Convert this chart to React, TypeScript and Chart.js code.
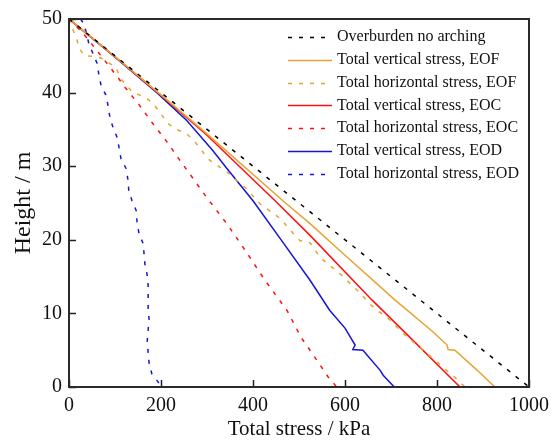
import React, { useEffect, useRef } from "react";
import { Chart, registerables } from "chart.js";

Chart.register(...registerables);

const seriesLabels = [
  "Overburden no arching",
  "Total vertical stress, EOF",
  "Total horizontal stress, EOF",
  "Total vertical stress, EOC",
  "Total horizontal stress, EOC",
  "Total vertical stress, EOD",
  "Total horizontal stress, EOD",
];

const overburdenStress = [0, 1000];
const overburdenHeight = [50, 0];

const eofVStress = [0, 111, 200, 300, 465, 524, 600, 709, 791, 822, 824, 839, 887, 926];
const eofVHeight = [50, 44.3, 39.7, 34.4, 25.3, 22.2, 17.9, 11.8, 7.5, 5.7, 5.1, 5.0, 2.3, 0];

const eofHStress = [0, 10, 15, 22, 33, 58, 74, 102, 111, 139, 165, 183, 198, 213, 230, 256, 274, 289, 302, 322, 346, 385, 415, 459, 487, 502, 524, 546, 589, 604, 637, 650, 670, 691, 709, 726, 783, 802, 822, 841, 861];
const eofHHeight = [50, 48.3, 47.7, 46.1, 45, 44.9, 44.6, 43.4, 42, 40, 39.4, 38.5, 37.3, 35.9, 35.1, 34.4, 33.3, 32.1, 31, 30.1, 29.1, 27, 24.9, 22.9, 20.9, 19.9, 19.6, 17.6, 15.4, 14.5, 12.5, 11.5, 10.4, 9.5, 8.4, 7.3, 4.3, 3.3, 2.2, 1.2, 0];

const eocVStress = [0, 111, 200, 300, 448, 524, 659, 750, 850];
const eocVHeight = [50, 44.3, 39.6, 34.2, 25.3, 20.6, 11.8, 6.2, 0];

const eocHStress = [0, 30, 61, 107, 122, 153, 182, 213, 240, 300, 343, 387, 426, 474, 506, 524, 563, 582];
const eocHHeight = [50, 48.1, 45.7, 42, 40.7, 38.3, 35.8, 33.3, 30.9, 25.7, 22.2, 18.2, 14.5, 10.4, 6.6, 5.0, 1.4, 0];

const eodVStress = [0, 100, 191, 256, 313, 342, 400, 460, 524, 567, 600, 622, 617, 639, 676, 683, 707];
const eodVHeight = [50, 44.8, 40, 36.2, 32.1, 29.8, 25.3, 20.1, 14.5, 10.4, 8, 5.7, 5.1, 5, 2.3, 1.6, 0];

const eodHStress = [25, 33, 43, 54, 61, 65, 70, 80, 85, 89, 96, 104, 109, 113, 124, 128, 130, 137, 146, 148, 152, 161, 163, 165, 170, 172, 172, 172, 174, 172, 170, 172, 174, 180, 196];
const eodHHeight = [50, 49.3, 46.7, 45, 44, 42.4, 40.9, 39.7, 38.2, 36.6, 35.2, 34, 32.5, 31, 29.7, 28.2, 26.7, 25.3, 24, 22.4, 20.9, 19.5, 18.2, 16.7, 15.2, 13.8, 12.2, 10.7, 9.2, 7.7, 6.2, 4.7, 3.3, 1.8, 0.5];

const xTicks = [0, 200, 400, 600, 800, 1000];
const yTicks = [0, 10, 20, 30, 40, 50];

const ORANGE = "#E6A330";
const RED = "#FF1010";
const BLUE = "#1515D5";
const BLACK = "#000000";
const DASH = [4, 7];

function pts(xs: number[], ys: number[]) {
  return xs.map((x, i) => ({ x, y: ys[i] }));
}

const frameTicksPlugin = {
  id: "frameTicks",
  afterDraw(chart: any) {
    const { ctx, chartArea } = chart;
    const { left, right, top, bottom } = chartArea;
    const xs = chart.scales.x;
    const ys = chart.scales.y;
    ctx.save();
    ctx.strokeStyle = "#222";
    ctx.lineWidth = 1.5;
    ctx.setLineDash([]);
    xTicks.forEach((v) => {
      const px = Math.round(xs.getPixelForValue(v)) + 0.5;
      ctx.beginPath();
      ctx.moveTo(px, bottom);
      ctx.lineTo(px, bottom - 7);
      ctx.stroke();
    });
    yTicks.forEach((v) => {
      const py = Math.round(ys.getPixelForValue(v)) + 0.5;
      ctx.beginPath();
      ctx.moveTo(left, py);
      ctx.lineTo(left + 7, py);
      ctx.stroke();
    });
    ctx.lineWidth = 2;
    ctx.strokeStyle = "#2a2a2a";
    ctx.strokeRect(left, top, right - left, bottom - top);
    ctx.restore();
  },
};

const legendPlugin = {
  id: "customLegend",
  afterDraw(chart: any) {
    const { ctx, chartArea } = chart;
    const x0 = chartArea.left + 219;
    const x1 = x0 + 44;
    const tx = x1 + 5;
    ctx.save();
    ctx.font = "16px 'Liberation Serif'";
    ctx.textBaseline = "middle";
    ctx.textAlign = "left";
    chart.data.datasets.forEach((ds: any, i: number) => {
      const y = chartArea.top + 18 + i * 22.8;
      ctx.strokeStyle = ds.borderColor;
      ctx.lineWidth = 1.5;
      ctx.setLineDash(ds.borderDash || []);
      ctx.beginPath();
      ctx.moveTo(x0, Math.round(y) + 0.5);
      ctx.lineTo(x1, Math.round(y) + 0.5);
      ctx.stroke();
      ctx.setLineDash([]);
      ctx.fillStyle = "#111";
      ctx.fillText(ds.label, tx, y);
    });
    ctx.restore();
  },
};

export default function App() {
  const ref = useRef<HTMLCanvasElement | null>(null);
  useEffect(() => {
    if (!ref.current) return;
    const mk = (i: number, xs: number[], ys: number[], color: string, dashed: boolean) => ({
      label: seriesLabels[i],
      data: pts(xs, ys),
      borderColor: color,
      backgroundColor: color,
      borderWidth: 1.5,
      borderDash: dashed ? DASH : [],
      pointRadius: 0,
      showLine: true,
      fill: false,
      tension: 0,
    });
    const chart = new Chart(ref.current, {
      type: "scatter",
      data: {
        datasets: [
          mk(0, overburdenStress, overburdenHeight, BLACK, true),
          mk(1, eofVStress, eofVHeight, ORANGE, false),
          mk(2, eofHStress, eofHHeight, ORANGE, true),
          mk(3, eocVStress, eocVHeight, RED, false),
          mk(4, eocHStress, eocHHeight, RED, true),
          mk(5, eodVStress, eodVHeight, BLUE, false),
          mk(6, eodHStress, eodHHeight, BLUE, true),
        ] as any,
      },
      options: {
        animation: false,
        responsive: false,
        maintainAspectRatio: false,
        layout: { padding: { top: 17, right: 28, left: 0, bottom: 0 } },
        plugins: { legend: { display: false }, tooltip: { enabled: false } },
        scales: {
          x: {
            type: "linear",
            min: 0,
            max: 1000,
            afterFit: (s: any) => {
              s.height = 56;
            },
            afterBuildTicks: (s: any) => {
              s.ticks = xTicks.map((v) => ({ value: v }));
            },
            grid: { display: false, drawTicks: false },
            border: { display: false },
            ticks: {
              padding: 7,
              color: "#111",
              font: { family: "'Liberation Serif'", size: 20 },
              maxRotation: 0,
              callback: (v: any) => String(v),
            },
            title: {
              display: true,
              text: "Total stress / kPa",
              color: "#111",
              font: { family: "'Liberation Serif'", size: 21 },
              padding: { top: 0, bottom: 1 },
            },
          },
          y: {
            type: "linear",
            min: 0,
            max: 50,
            afterFit: (s: any) => {
              s.width = 69;
            },
            afterBuildTicks: (s: any) => {
              s.ticks = yTicks.map((v) => ({ value: v }));
            },
            grid: { display: false, drawTicks: false },
            border: { display: false },
            ticks: {
              padding: 7,
              color: "#111",
              font: { family: "'Liberation Serif'", size: 20 },
              callback: (v: any) => String(v),
            },
            title: {
              display: true,
              text: "Height / m",
              color: "#111",
              font: { family: "'Liberation Serif'", size: 24 },
              padding: { top: 9, bottom: 0 },
            },
          },
        },
      },
      plugins: [frameTicksPlugin, legendPlugin],
    } as any);
    return () => chart.destroy();
  }, []);
  return (
    <div style={{ position: "absolute", left: 0, top: 0, width: 557, height: 443, background: "#fff" }}>
      <canvas ref={ref} width={557} height={443} style={{ width: 557, height: 443, display: "block" }} />
    </div>
  );
}
